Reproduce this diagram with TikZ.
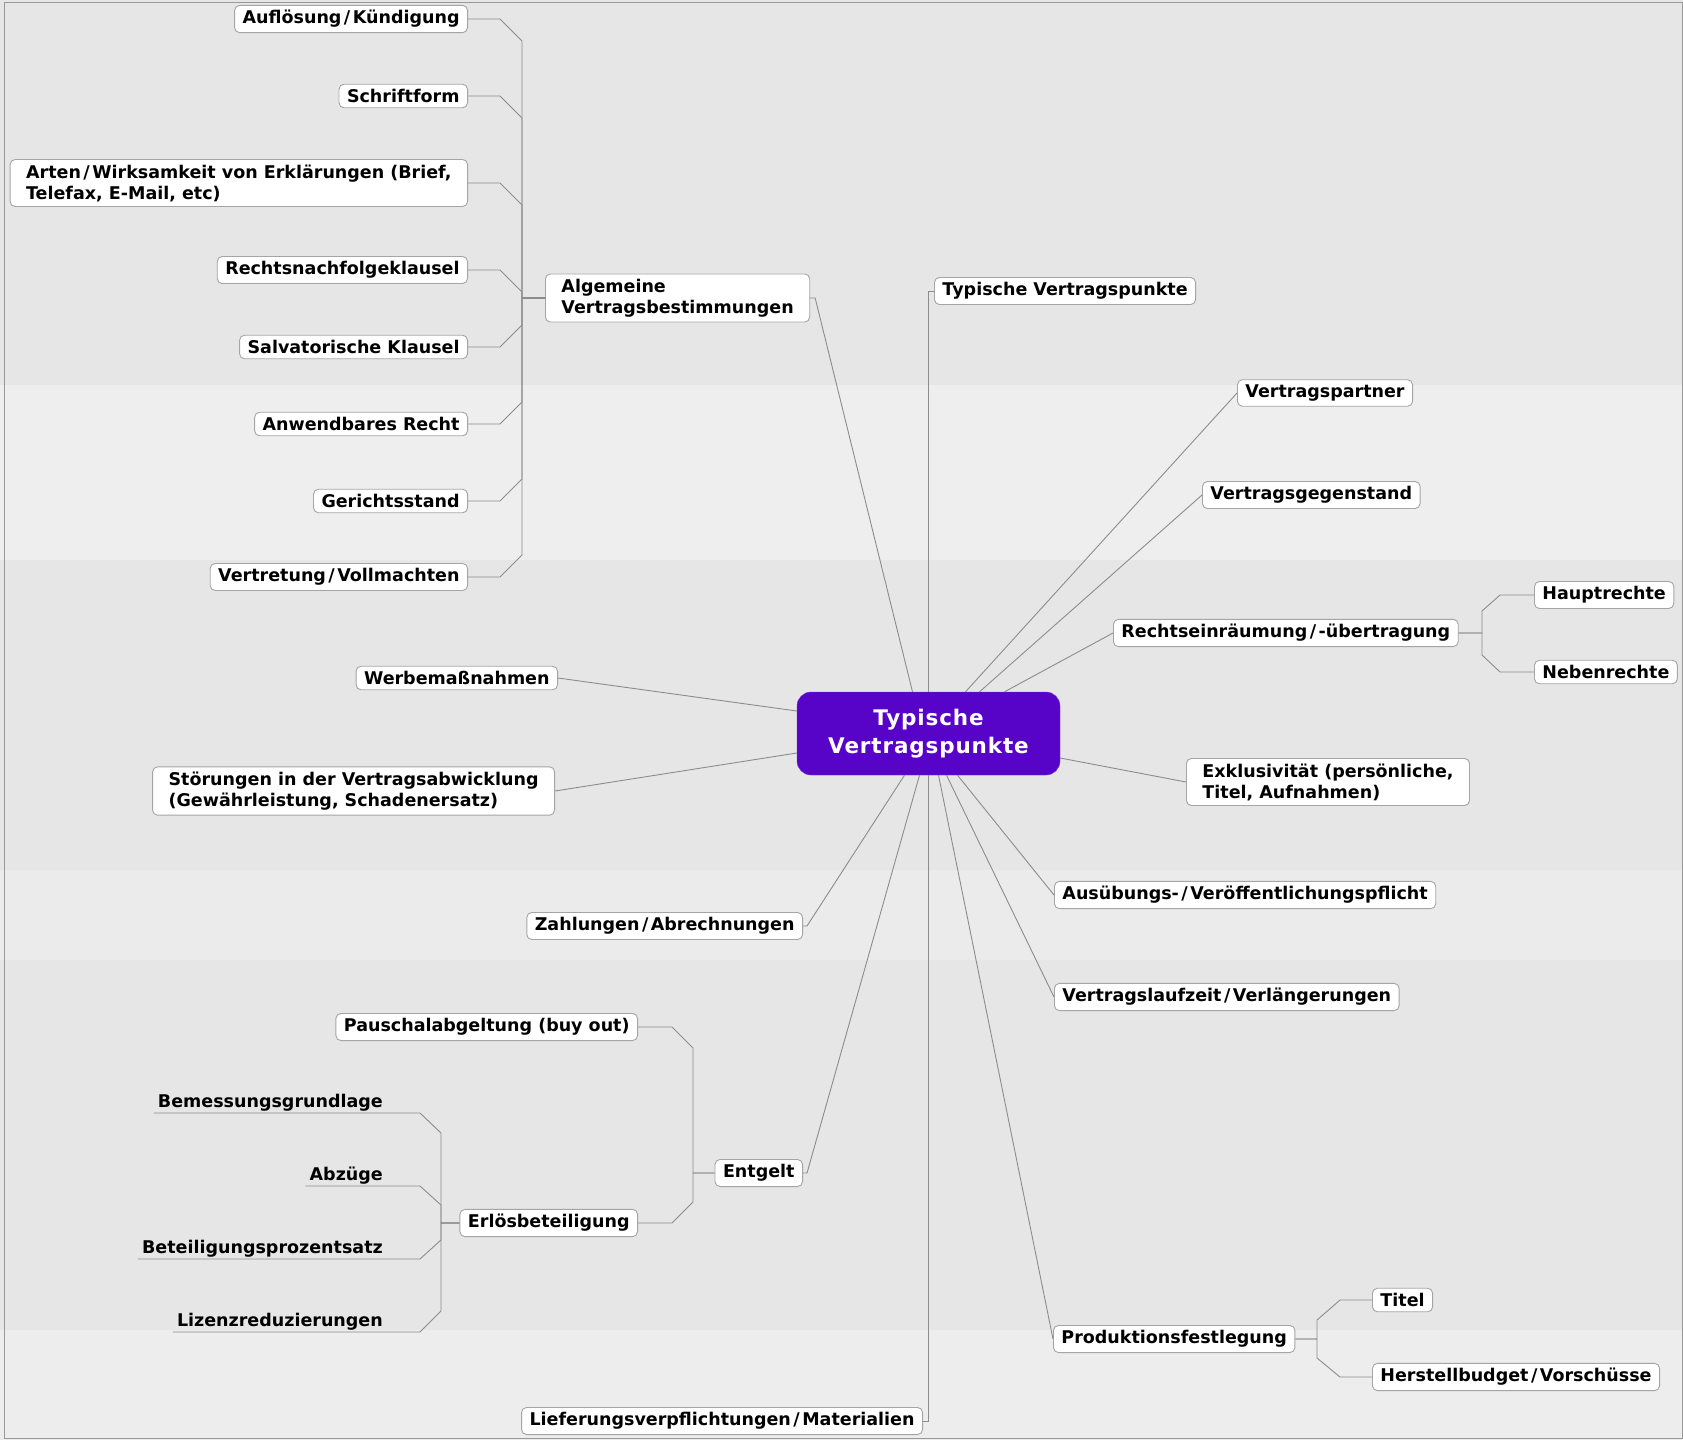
\documentclass[tikz,border=0pt]{standalone}
\usepackage{fontspec}
\setmainfont{DejaVu Sans}
\usepackage{tikz}

\definecolor{mapbg}{RGB}{230,230,230}
\definecolor{maplink}{RGB}{140,140,140}
\definecolor{mapedge}{RGB}{165,165,165}
\definecolor{centrefill}{RGB}{88,4,200}
\newcommand\slashsp{\kern2.5pt/\kern2.5pt}

\begin{document}
\begin{tikzpicture}[x=1pt, y=-1pt,
    topic/.style={draw=mapedge, fill=white, rounded corners=5pt, line width=0.9pt,
      inner xsep=8pt, inner ysep=5pt, align=left, font=\bfseries\fontsize{17.5}{21}\selectfont},
    twoline/.style={topic, inner xsep=16pt},
    leaf/.style={inner xsep=4pt, inner ysep=0pt, text depth=5pt, font=\bfseries\fontsize{17.5}{21}\selectfont},
    centre/.style={draw=centrefill!80!white, fill=centrefill, rounded corners=14pt, text=white,
      align=center, minimum width=263pt, minimum height=83pt,
      font=\bfseries\fontsize{21.5}{28}\selectfont\addfontfeature{LetterSpace=4}},
    link/.style={draw=maplink, line width=0.9pt}]
    \useasboundingbox (0,0) rectangle (1683,1440);
    \fill[mapbg] (0,0) rectangle (1683,1440);
    \fill[white, opacity=0.35] (0,385) rectangle (1683,560);
    \fill[white, opacity=0.2] (0,870) rectangle (1683,960);
    \fill[white, opacity=0.3] (0,1330) rectangle (1683,1440);
    \draw[gray!80] (4,2) rectangle (1682,1438);

    \node[centre] (ctr) at (928.5,733.5) {Typische\\Vertragspunkte};

    % left: Algemeine Vertragsbestimmungen
    \node[twoline, anchor=west] (alg) at (545,298) {Algemeine\\Vertragsbestimmungen};
    \node[topic, anchor=east] (auf) at (468,19) {Auflösung\slashsp Kündigung};
    \node[topic, anchor=east] (schr) at (468,96) {Schriftform};
    \node[twoline, anchor=east] (arten) at (468,183) {Arten\slashsp Wirksamkeit von Erklärungen (Brief,\\Telefax, E-Mail, etc)};
    \node[topic, anchor=east] (rnk) at (468,270) {Rechtsnachfolgeklausel};
    \node[topic, anchor=east] (salv) at (468,347) {Salvatorische Klausel};
    \node[topic, anchor=east] (anw) at (468,424) {Anwendbares Recht};
    \node[topic, anchor=east] (ger) at (468,501) {Gerichtsstand};
    \node[topic, anchor=east] (vollm) at (468,577) {Vertretung\slashsp Vollmachten};
    \node[topic, anchor=east] (werbung) at (558,678) {Werbemaßnahmen};
    \node[twoline, anchor=east] (stoer) at (555,791) {Störungen in der Vertragsabwicklung\\(Gewährleistung, Schadenersatz)};
    \node[topic, anchor=east] (zahl) at (803,926) {Zahlungen\slashsp Abrechnungen};

    % left: Entgelt
    \node[topic, anchor=east] (entgelt) at (803,1173) {Entgelt};
    \node[topic, anchor=east] (pausch) at (638,1027) {Pauschalabgeltung (buy out)};
    \node[topic, anchor=east] (erloes) at (638,1223) {Erlösbeteiligung};
    \node[leaf, anchor=south east] (bemess) at (387,1113) {Bemessungsgrundlage};
    \node[leaf, anchor=south east] (abzug) at (387,1186) {Abzüge};
    \node[leaf, anchor=south east] (proz) at (387,1259) {Beteiligungsprozentsatz};
    \node[leaf, anchor=south east] (lizenz) at (387,1332) {Lizenzreduzierungen};
    \node[topic, anchor=east] (liefer) at (923,1421) {Lieferungsverpflichtungen\slashsp Materialien};

    % right side
    \node[topic, anchor=west] (typ) at (934,291) {Typische Vertragspunkte};
    \node[topic, anchor=west] (partner) at (1237,393) {Vertragspartner};
    \node[topic, anchor=west] (gegen) at (1202,495) {Vertragsgegenstand};
    \node[topic, anchor=west] (rechte) at (1113,633) {Rechtseinräumung\slashsp-übertragung};
    \node[topic, anchor=west] (haupt) at (1534,595) {Hauptrechte};
    \node[topic, anchor=west] (neben) at (1534,672) {Nebenrechte};
    \node[twoline, anchor=west] (exkl) at (1186,782) {Exklusivität (persönliche,\\Titel, Aufnahmen)};
    \node[topic, anchor=west] (ausueb) at (1054,895) {Ausübungs-\slashsp Veröffentlichungspflicht};
    \node[topic, anchor=west] (laufzeit) at (1054,997) {Vertragslaufzeit\slashsp Verlängerungen};
    \node[topic, anchor=west] (prod) at (1053,1339) {Produktionsfestlegung};
    \node[topic, anchor=west] (titel) at (1372,1300) {Titel};
    \node[topic, anchor=west] (budget) at (1372,1377) {Herstellbudget\slashsp Vorschüsse};

    % branches
    \foreach \n in {auf, schr, arten, rnk}
        \draw[link] (\n.east) -- ++(32,0) -- ++(22,22) |- (alg.west);
    \foreach \n in {salv, anw, ger, vollm}
        \draw[link] (\n.east) -- ++(32,0) -- ++(22,-22) |- (alg.west);
    \draw[link] (pausch.east) -- ++(34,0) -- ++(21,21) |- (entgelt.west);
    \draw[link] (erloes.east) -- ++(34,0) -- ++(21,-21) |- (entgelt.west);
    \foreach \n/\d in {bemess/20, abzug/19, proz/-19, lizenz/-21}
        \draw[link] (\n.south west) -- (\n.south east) -- ++(33,0) -- ++(21,\d) |- (erloes.west);
    \draw[link] (haupt.west) -- ++(-34,0) -- ++(-18,16) |- (rechte.east);
    \draw[link] (neben.west) -- ++(-34,0) -- ++(-18,-17) |- (rechte.east);
    \draw[link] (titel.west) -- ++(-32,0) -- ++(-23,20) |- (prod.east);
    \draw[link] (budget.west) -- ++(-32,0) -- ++(-23,-19) |- (prod.east);

    % from the centre
    \draw[link] (alg.east) -- ++(5,0) -- ([xshift=-16pt]ctr.north);
    \draw[link] (ctr.north) |- (typ.west);
    \draw[link] ([xshift=37pt]ctr.north) -- (partner.west);
    \draw[link] ([xshift=51pt]ctr.north) -- (gegen.west);
    \draw[link] ([xshift=76pt]ctr.north) -- (rechte.west);
    \draw[link] ([yshift=-24.5pt]ctr.east) -- (exkl.west);
    \draw[link] ([xshift=29pt]ctr.south) -- (ausueb.west);
    \draw[link] ([xshift=18pt]ctr.south) -- (laufzeit.west);
    \draw[link] ([xshift=10pt]ctr.south) -- (prod.west);
    \draw[link] (ctr.south) |- (liefer.east);
    \draw[link] ([xshift=-9pt]ctr.south) -- ([xshift=4pt]entgelt.east) -- (entgelt.east);
    \draw[link] ([xshift=-24pt]ctr.south) -- ([xshift=4pt]zahl.east) -- (zahl.east);
    \draw[link] ([yshift=-19.5pt]ctr.west) -- (stoer.east);
    \draw[link] ([yshift=22.5pt]ctr.west) -- (werbung.east);
\end{tikzpicture}
\end{document}
